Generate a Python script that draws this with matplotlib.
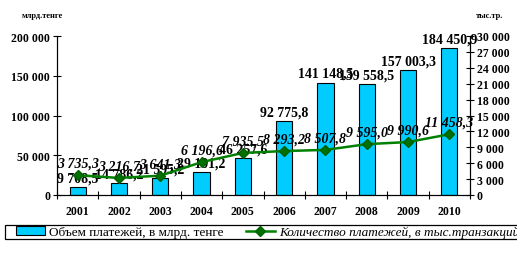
import matplotlib
matplotlib.use("Agg")
import matplotlib.pyplot as plt
import numpy as np
from matplotlib.patches import Patch, Rectangle
from matplotlib.lines import Line2D

years = ["2001", "2002", "2003", "2004", "2005", "2006", "2007", "2008", "2009", "2010"]
volume = [9708.5, 14786.2, 21595.2, 29101.2, 46257.6, 92775.8, 141148.5, 139558.5, 157003.3, 184450.9]
count = [3735.3, 3216.7, 3641.3, 6196.6, 7935.5, 8293.2, 8507.8, 9595.0, 9990.6, 11458.3]
left_ticks = [0, 50000, 100000, 150000, 200000]
right_ticks = [0, 3000, 6000, 9000, 12000, 15000, 18000, 21000, 24000, 27000, 30000]

def fmt(v, dec=True):
    if dec:
        s = f"{v:,.1f}".replace(",", " ").replace(".", ",")
    else:
        s = f"{v:,.0f}".replace(",", " ")
    return s

serif = "Liberation Serif"
W, H = 517, 255
fig = plt.figure(figsize=(W / 100, H / 100), dpi=100)
ax = fig.add_axes([57 / W, 1 - 196 / H, (470 - 57) / W, (196 - 37) / H])
ax2 = ax.twinx()

x = np.arange(len(years))
ax.bar(x, volume, width=0.39, color="#00CCFF", edgecolor="black", linewidth=0.8, zorder=2)
ax.set_xlim(-0.5, len(years) - 0.5)
ax.set_ylim(0, 200000)
ax.set_yticks(left_ticks)
ax.set_yticklabels([fmt(v, False) for v in left_ticks], fontfamily=serif, fontweight="bold", fontsize=8.5)
ax.set_xticks(np.arange(-0.5, len(years), 1.0))
ax.set_xticklabels([])
ax.set_xticks(x, minor=True)
ax.set_xticklabels(years, minor=True, fontfamily=serif, fontweight="bold", fontsize=8.5)
ax.tick_params(axis="x", which="minor", length=0, pad=7)
ax.tick_params(axis="x", which="major", direction="inout", length=6, width=0.8)
ax.tick_params(axis="y", direction="inout", length=6, width=0.8, pad=2)
for s in ["top"]:
    ax.spines[s].set_visible(False)
    ax2.spines[s].set_visible(False)
for s in ["left", "right", "bottom"]:
    ax2.spines[s].set_linewidth(0.8)
    ax.spines[s].set_linewidth(0.8)

ax2.plot(x, count, color="#008000", linewidth=1.8, marker="D", markersize=5.5,
         markerfacecolor="#007000", markeredgecolor="#006000", zorder=3)
ax2.set_ylim(0, 30000)
ax2.set_yticks(right_ticks)
ax2.set_yticklabels([fmt(v, False) for v in right_ticks], fontfamily=serif, fontweight="bold", fontsize=8.5)
ax2.tick_params(axis="y", direction="inout", length=6, width=0.8, pad=2)

for xi, v in zip(x, volume):
    ax.annotate(fmt(v), (xi, v), xytext=(0, 2), textcoords="offset points", ha="center", va="bottom",
                fontfamily=serif, fontweight="bold", fontsize=10, zorder=5)
for xi, v in zip(x, count):
    ax2.annotate(fmt(v), (xi, v), xytext=(0, 4), textcoords="offset points", ha="center", va="bottom",
                 fontfamily=serif, fontweight="bold", fontstyle="italic", fontsize=10, zorder=5)

fig.text(22 / W, 1 - 16 / H, "млрд.тенге", fontfamily=serif, fontweight="bold", fontsize=6, va="center", ha="left")
fig.text(476 / W, 1 - 16 / H, "тыс.тр.", fontfamily=serif, fontweight="bold", fontsize=6, va="center", ha="left")

# legend frame (extends beyond right edge as in the reference)
fig.patches.append(Rectangle((5 / W, 1 - 240 / H), 530 / W, 14 / H, transform=fig.transFigure,
                             facecolor="white", edgecolor="black", linewidth=0.9, zorder=0))

handles = [Patch(facecolor="#00CCFF", edgecolor="black", linewidth=0.8),
           Line2D([0], [0], color="#008000", linewidth=1.8, marker="D", markersize=5.5,
                  markerfacecolor="#007000", markeredgecolor="#006000")]
leg = fig.legend(handles, ["Объем платежей, в млрд. тенге", "Количество платежей, в тыс.транзакций"],
                 loc="center left", bbox_to_anchor=(16 / W, 1 - 233 / H), ncol=2, frameon=False,
                 borderpad=0.0, handlelength=2.2, handleheight=0.6,
                 columnspacing=1.7, handletextpad=0.3, borderaxespad=0,
                 prop={"family": serif, "size": 9.5})
leg.get_texts()[1].set_fontstyle("italic")

fig.savefig("out.png", dpi=100)
